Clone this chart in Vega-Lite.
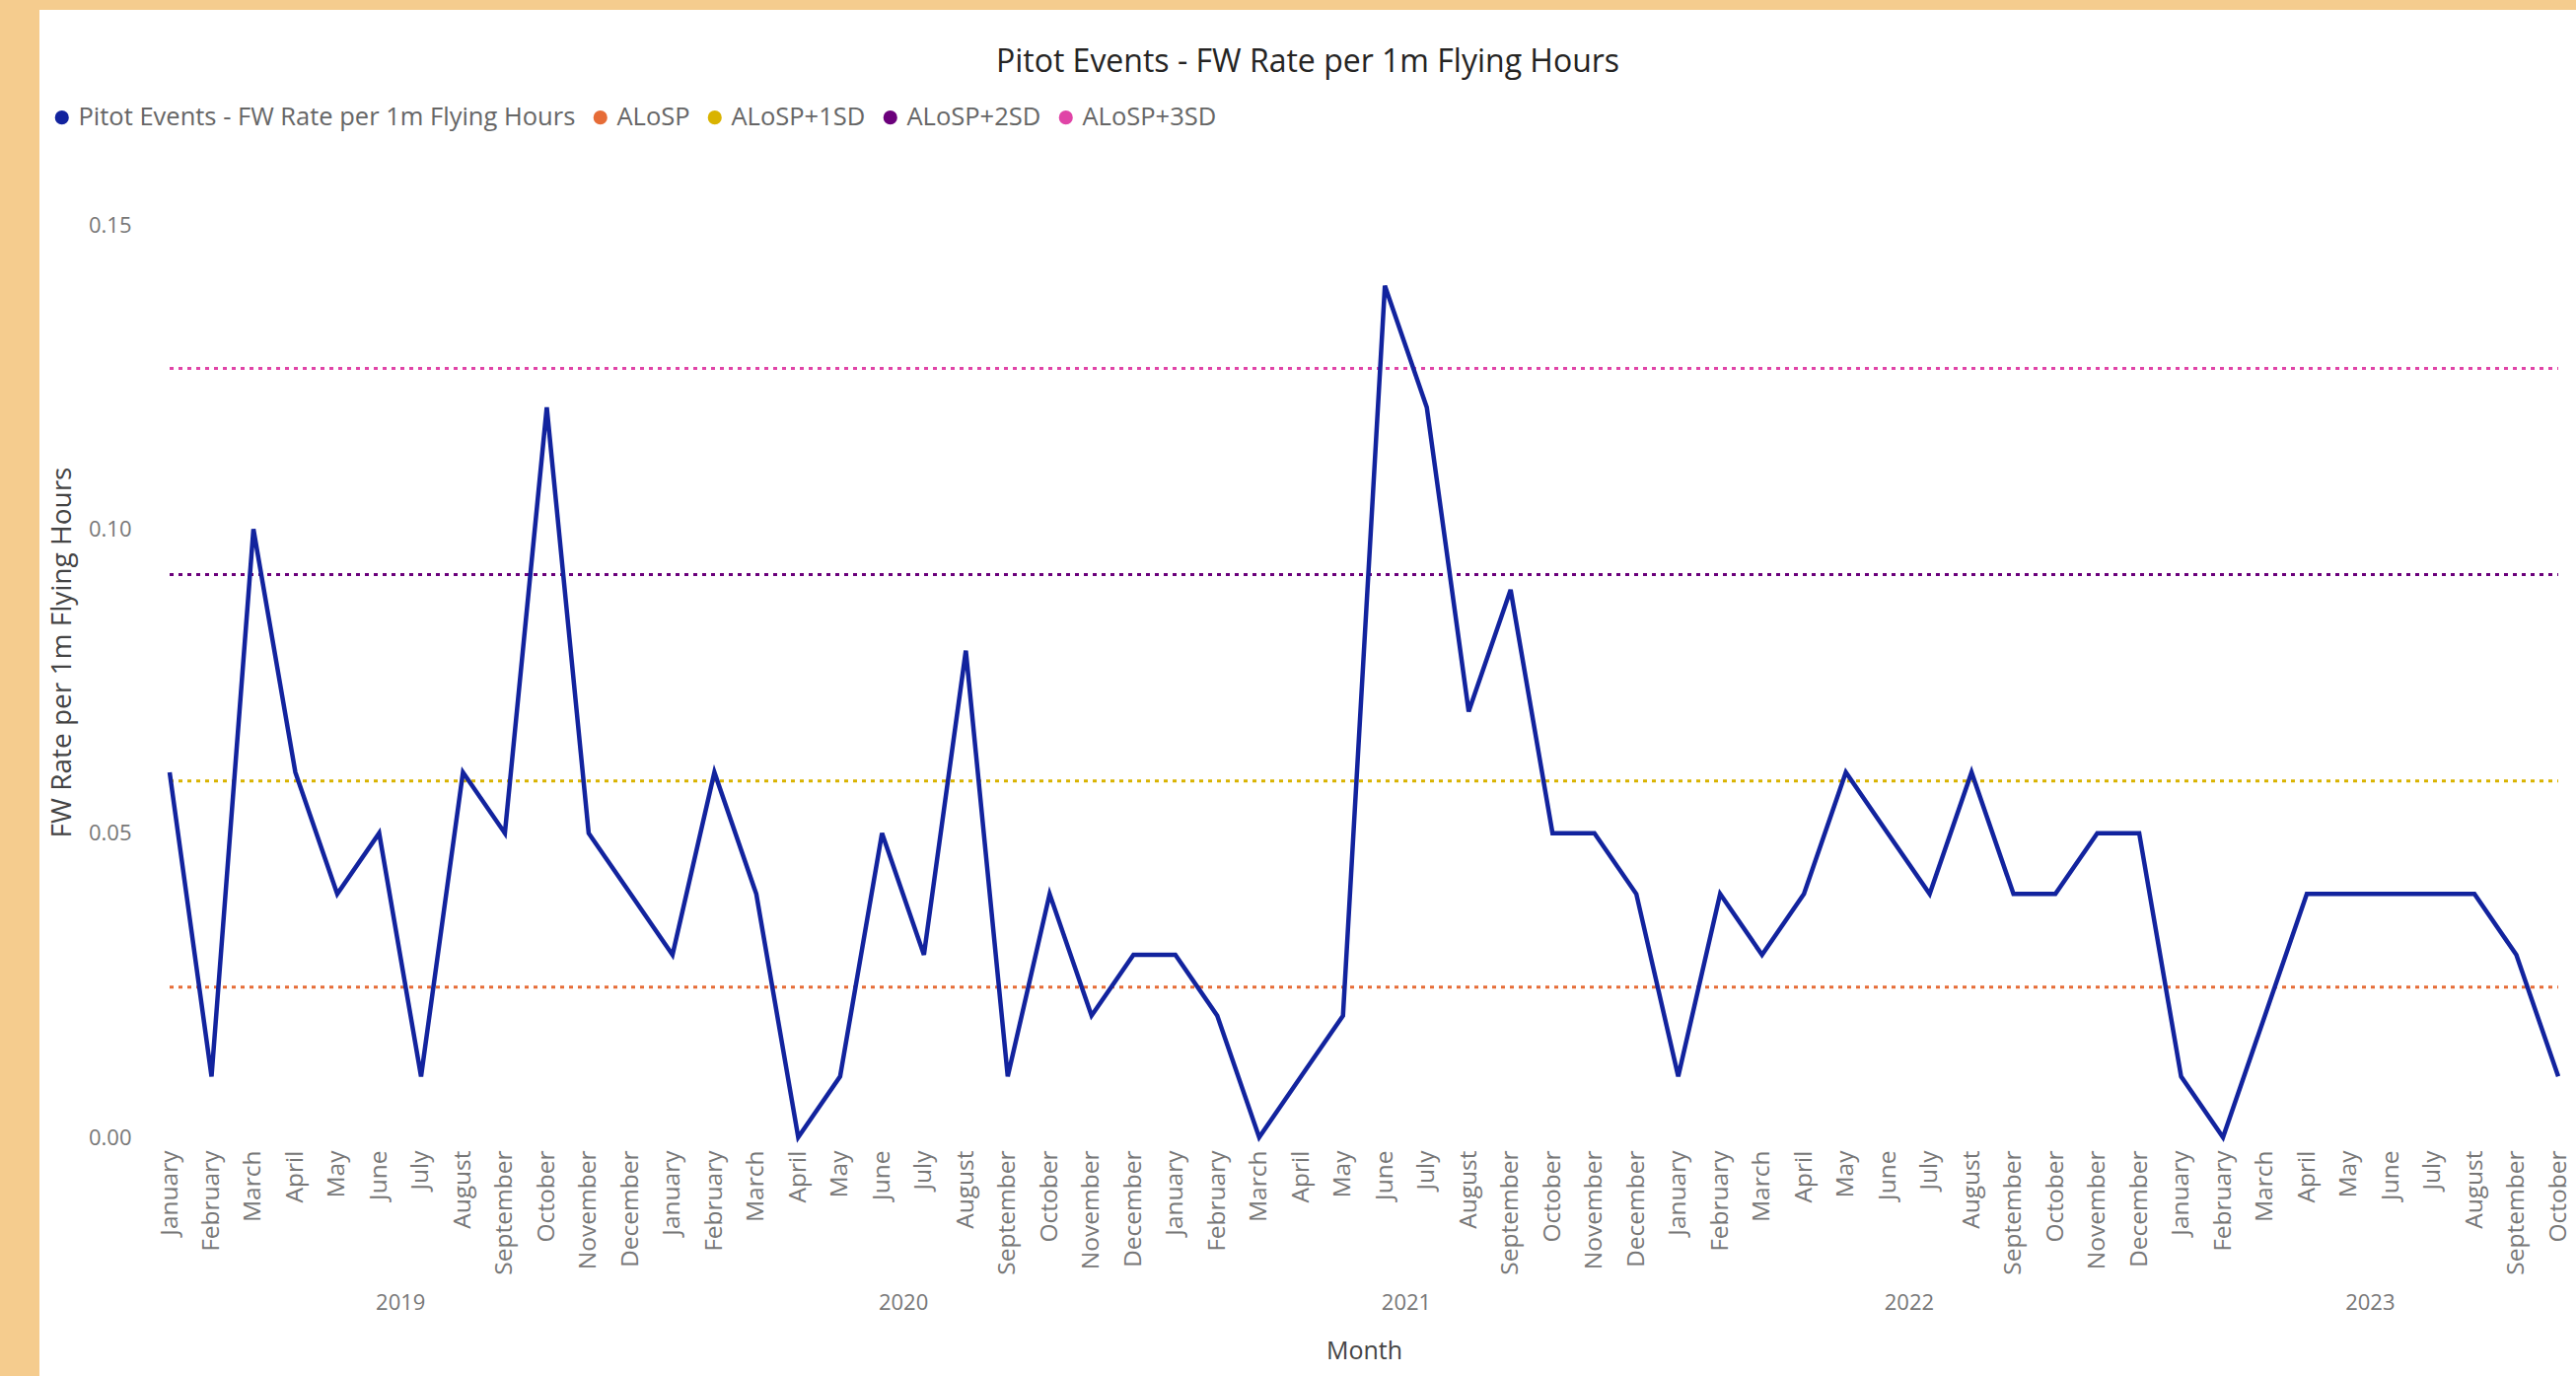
{
  "$schema": "https://vega.github.io/schema/vega-lite/v6.json",
  "width": 2572,
  "height": 1385,
  "autosize": "none",
  "padding": {"left": 40, "top": 10, "right": 0, "bottom": 0},
  "background": "#F5CC8E",
  "config": {
    "font": "Open Sans",
    "view": {"fill": "white", "stroke": null}
  },
  "title": {
    "text": "Pitot Events - FW Rate per 1m Flying Hours",
    "anchor": "middle",
    "frame": "group",
    "baseline": "bottom",
    "offset": -102,
    "fontSize": 32,
    "fontWeight": "normal",
    "color": "#252423"
  },
  "datasets": {
    "rates": [
      {"key": "2019-01", "value": 0.06}, {"key": "2019-02", "value": 0.01}, {"key": "2019-03", "value": 0.10},
      {"key": "2019-04", "value": 0.06}, {"key": "2019-05", "value": 0.04}, {"key": "2019-06", "value": 0.05},
      {"key": "2019-07", "value": 0.01}, {"key": "2019-08", "value": 0.06}, {"key": "2019-09", "value": 0.05},
      {"key": "2019-10", "value": 0.12}, {"key": "2019-11", "value": 0.05}, {"key": "2019-12", "value": 0.04},
      {"key": "2020-01", "value": 0.03}, {"key": "2020-02", "value": 0.06}, {"key": "2020-03", "value": 0.04},
      {"key": "2020-04", "value": 0.00}, {"key": "2020-05", "value": 0.01}, {"key": "2020-06", "value": 0.05},
      {"key": "2020-07", "value": 0.03}, {"key": "2020-08", "value": 0.08}, {"key": "2020-09", "value": 0.01},
      {"key": "2020-10", "value": 0.04}, {"key": "2020-11", "value": 0.02}, {"key": "2020-12", "value": 0.03},
      {"key": "2021-01", "value": 0.03}, {"key": "2021-02", "value": 0.02}, {"key": "2021-03", "value": 0.00},
      {"key": "2021-04", "value": 0.01}, {"key": "2021-05", "value": 0.02}, {"key": "2021-06", "value": 0.14},
      {"key": "2021-07", "value": 0.12}, {"key": "2021-08", "value": 0.07}, {"key": "2021-09", "value": 0.09},
      {"key": "2021-10", "value": 0.05}, {"key": "2021-11", "value": 0.05}, {"key": "2021-12", "value": 0.04},
      {"key": "2022-01", "value": 0.01}, {"key": "2022-02", "value": 0.04}, {"key": "2022-03", "value": 0.03},
      {"key": "2022-04", "value": 0.04}, {"key": "2022-05", "value": 0.06}, {"key": "2022-06", "value": 0.05},
      {"key": "2022-07", "value": 0.04}, {"key": "2022-08", "value": 0.06}, {"key": "2022-09", "value": 0.04},
      {"key": "2022-10", "value": 0.04}, {"key": "2022-11", "value": 0.05}, {"key": "2022-12", "value": 0.05},
      {"key": "2023-01", "value": 0.01}, {"key": "2023-02", "value": 0.00}, {"key": "2023-03", "value": 0.02},
      {"key": "2023-04", "value": 0.04}, {"key": "2023-05", "value": 0.04}, {"key": "2023-06", "value": 0.04},
      {"key": "2023-07", "value": 0.04}, {"key": "2023-08", "value": 0.04}, {"key": "2023-09", "value": 0.03},
      {"key": "2023-10", "value": 0.01}
    ],
    "refs": [
      {"series": "ALoSP", "value": 0.0247, "start": "2019-01", "end": "2023-10"},
      {"series": "ALoSP+1SD", "value": 0.0586, "start": "2019-01", "end": "2023-10"},
      {"series": "ALoSP+2SD", "value": 0.0925, "start": "2019-01", "end": "2023-10"},
      {"series": "ALoSP+3SD", "value": 0.1264, "start": "2019-01", "end": "2023-10"}
    ]
  },
  "layer": [
    {
      "data": {"name": "refs"},
      "mark": {"type": "rule", "strokeWidth": 3, "strokeDash": [4, 5]},
      "encoding": {
        "x": {
          "field": "start",
          "type": "ordinal",
          "scale": {"type": "point", "range": [132, 2554], "padding": 0},
          "axis": {
            "orient": "bottom",
            "offset": -242,
            "domain": false,
            "ticks": false,
            "tickSize": 0,
            "grid": false,
            "labelAngle": 0,
            "labelAlign": "center",
            "labelBaseline": "top",
            "labelPadding": 157,
            "labelOffset": 21.25,
            "labelFontSize": 22,
            "labelColor": "#777777",
            "labelOverlap": false,
            "labelExpr": "((substring(datum.value, 5, 7) == '06' && substring(datum.value, 0, 4) != '2023') || datum.value == '2023-05') ? substring(datum.value, 0, 4) : ''",
            "title": "Month",
            "titleFontSize": 25,
            "titleFontWeight": "normal",
            "titleColor": "#444444",
            "titleY": 216,
            "titleBaseline": "middle"
          }
        },
        "x2": {"field": "end"},
        "y": {
          "field": "value",
          "type": "quantitative",
          "scale": {"domain": [0, 0.15], "range": [1143, 218], "nice": false},
          "axis": {
            "title": "FW Rate per 1m Flying Hours",
            "values": [0, 0.05, 0.1, 0.15],
            "format": ".2f",
            "orient": "left",
            "offset": -111,
            "domain": false,
            "ticks": false,
            "tickSize": 0,
            "grid": false,
            "labelPadding": 18,
            "labelFontSize": 22,
            "labelColor": "#777777",
            "titleFontSize": 28,
            "titleFontWeight": "normal",
            "titleColor": "#444444",
            "titleX": -88,
            "titleY": 651,
            "titleAngle": 270,
            "titleAlign": "center",
            "titleBaseline": "middle"
          }
        },
        "color": {
          "field": "series",
          "type": "nominal",
          "scale": {
            "domain": ["Pitot Events - FW Rate per 1m Flying Hours", "ALoSP", "ALoSP+1SD", "ALoSP+2SD", "ALoSP+3SD"],
            "range": ["#12239E", "#E66C37", "#D9B300", "#6B007B", "#E044A7"]
          },
          "legend": {
            "orient": "none",
            "legendX": 10,
            "legendY": 96,
            "direction": "horizontal",
            "columns": 5,
            "title": null,
            "symbolType": "circle",
            "symbolSize": 200,
            "symbolStrokeWidth": 0,
            "labelFontSize": 25.5,
            "labelColor": "#666666",
            "labelOffset": 4,
            "labelLimit": 1000,
            "columnPadding": 12,
            "padding": 0,
            "encode": {
              "symbols": {
                "update": {
                  "fill": {"scale": "color", "field": "value"},
                  "opacity": {"value": 1}
                }
              }
            }
          }
        }
      }
    },
    {
      "data": {"name": "rates"},
      "mark": {"type": "line", "strokeWidth": 4.5},
      "encoding": {
        "x": {
          "field": "key",
          "type": "ordinal",
          "axis": {
            "orient": "bottom",
            "offset": -242,
            "title": null,
            "domain": false,
            "ticks": false,
            "tickSize": 0,
            "grid": false,
            "labelAngle": 270,
            "labelAlign": "right",
            "labelBaseline": "middle",
            "labelPadding": 13,
            "labelFontSize": 24.5,
            "labelColor": "#777777",
            "labelOverlap": false,
            "labelExpr": "['January','February','March','April','May','June','July','August','September','October','November','December'][toNumber(substring(datum.value, 5, 7)) - 1]"
          }
        },
        "y": {
          "field": "value",
          "type": "quantitative",
          "scale": {"domain": [0, 0.15], "range": [1143, 218], "nice": false},
          "axis": {
            "title": "FW Rate per 1m Flying Hours",
            "values": [0, 0.05, 0.1, 0.15],
            "format": ".2f",
            "orient": "left",
            "offset": -111,
            "domain": false,
            "ticks": false,
            "tickSize": 0,
            "grid": false,
            "labelPadding": 18,
            "labelFontSize": 22,
            "labelColor": "#777777",
            "titleFontSize": 28,
            "titleFontWeight": "normal",
            "titleColor": "#444444",
            "titleX": -88,
            "titleY": 651,
            "titleAngle": 270,
            "titleAlign": "center",
            "titleBaseline": "middle"
          }
        },
        "color": {"datum": "Pitot Events - FW Rate per 1m Flying Hours", "type": "nominal"}
      }
    }
  ],
  "resolve": {"axis": {"x": "independent"}}
}
